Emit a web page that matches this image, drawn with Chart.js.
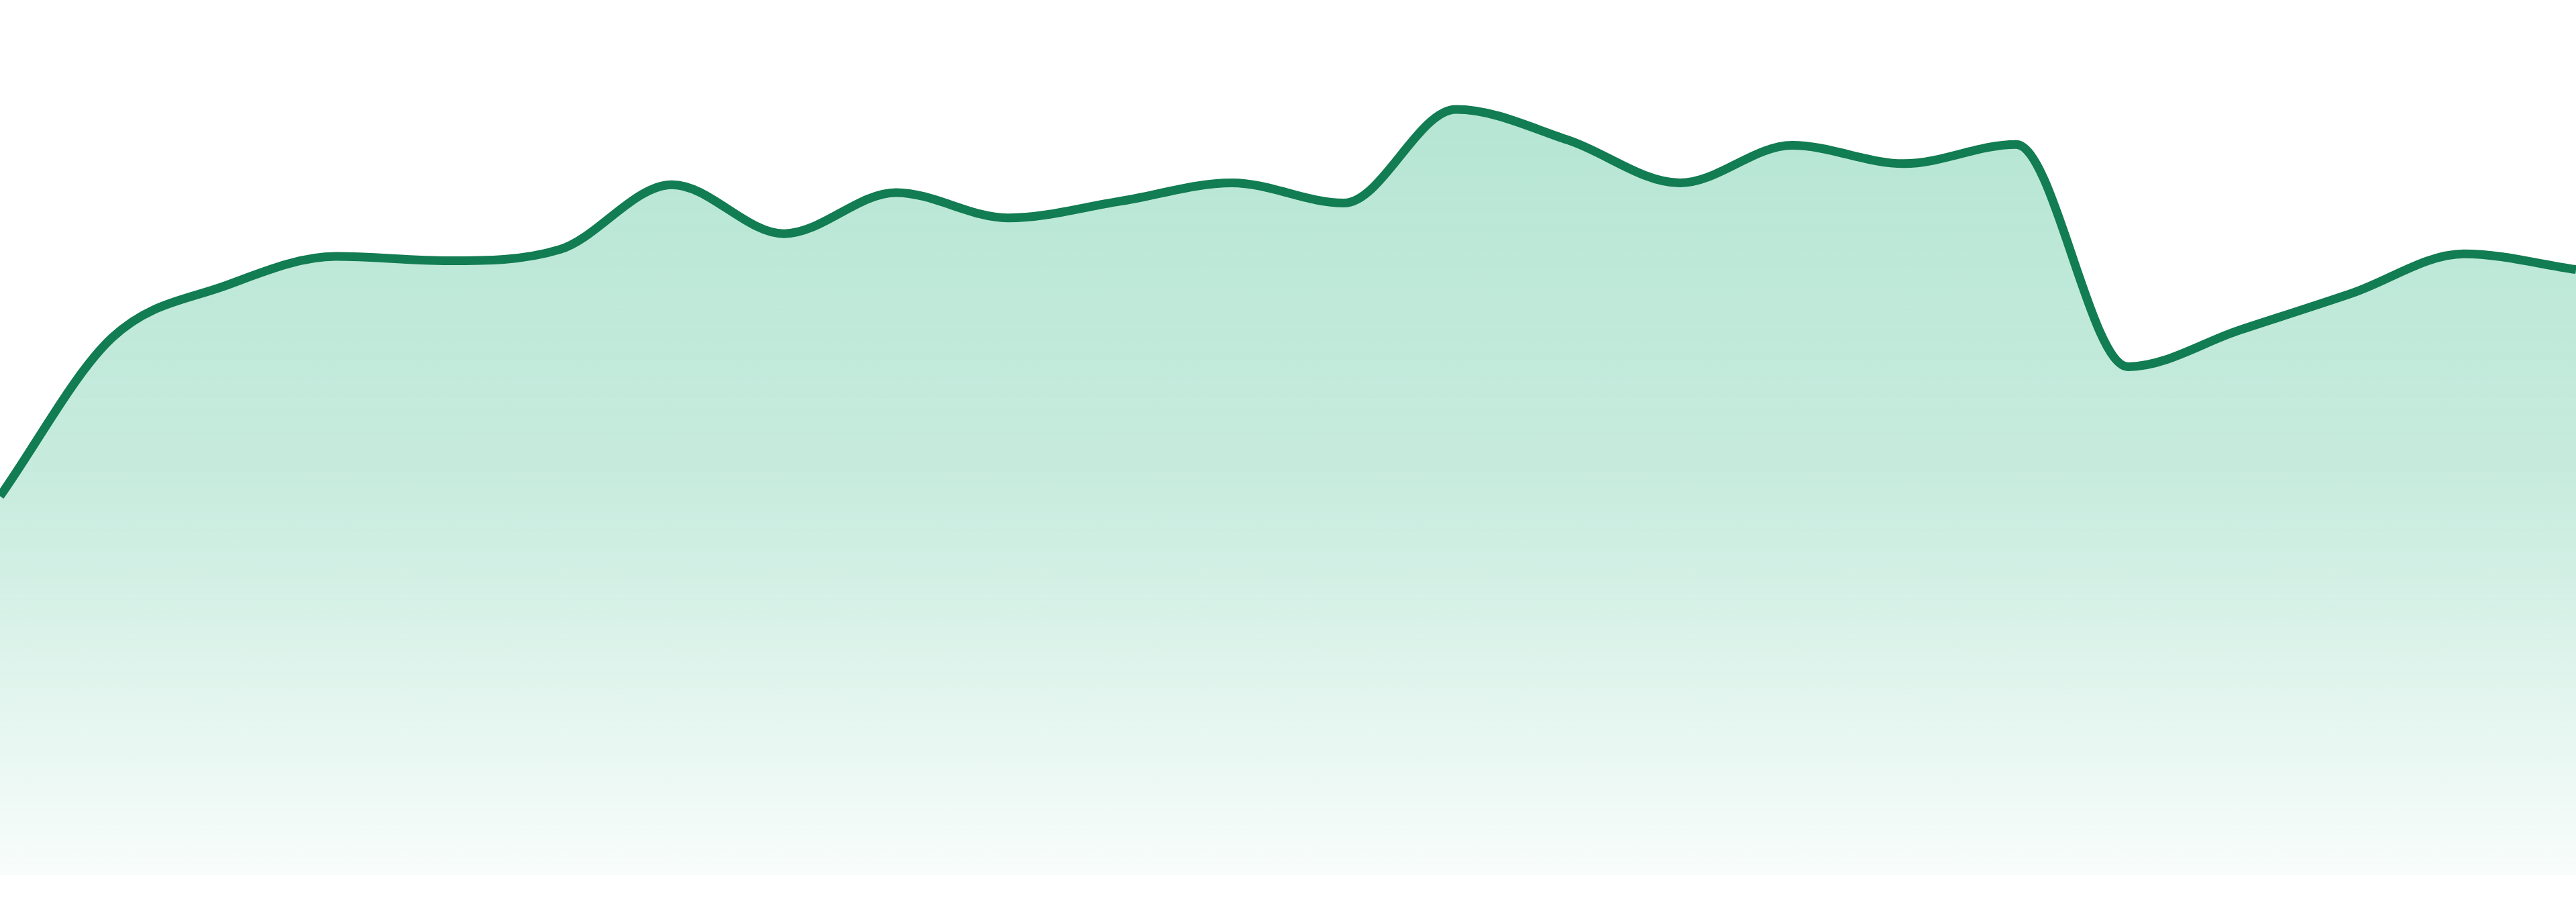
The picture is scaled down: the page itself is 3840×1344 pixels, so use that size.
<!DOCTYPE html>
<html>
<head>
<meta charset="utf-8">
<title>Area chart</title>
<script src="https://cdn.jsdelivr.net/npm/chart.js@4.4.1/dist/chart.umd.min.js"></script>
<style>
	html, body {
		margin: 0;
		padding: 0;
		background: #ffffff;
	}
	#chartWrap {
		width: 3840px;
		height: 1344px;
		position: relative;
	}
</style>
</head>
<body>
<div id="chartWrap">
	<canvas id="areaChart"></canvas>
</div>
<script>
// DATA
const categories = ['1', '2', '3', '4', '5', '6', '7', '8', '9', '10', '11', '12',
	'13', '14', '15', '16', '17', '18', '19', '20', '21', '22', '23', '24'];
const seriesValues = [43.3, 61.4, 67.3, 70.7, 70.2, 71.5, 78.9, 73.3, 78.0, 75.1, 77.0, 79.1,
	76.8, 87.5, 84.0, 79.1, 83.4, 81.3, 83.5, 58.1, 62.3, 66.5, 71.0, 69.2];
const yMin = 0;
const yMax = 100;

// COLOURS
const lineColor = 'rgb(18, 124, 82)';

// vertical fade under the line
function areaGradient(context) {
	const chart = context.chart;
	const area = chart.chartArea;
	if (!area) {
		return 'rgba(40, 180, 128, 0.3)';
	}
	const gradient = chart.ctx.createLinearGradient(0, area.top, 0, area.bottom);
	gradient.addColorStop(0, 'rgba(40, 180, 128, 0.36)');
	gradient.addColorStop(0.55, 'rgba(40, 180, 128, 0.26)');
	gradient.addColorStop(1, 'rgba(40, 180, 128, 0.03)');
	return gradient;
}

const data = {
	labels: categories,
	datasets: [{
		label: 'series',
		data: seriesValues,
		borderColor: lineColor,
		borderWidth: 13,
		backgroundColor: areaGradient,
		fill: 'origin',
		cubicInterpolationMode: 'monotone',
		pointRadius: 0,
		pointHoverRadius: 0
	}]
};

const config = {
	type: 'line',
	data: data,
	options: {
		responsive: true,
		maintainAspectRatio: false,
		animation: false,
		layout: {
			padding: {
				top: 0,
				left: 0,
				right: 0,
				bottom: 40
			}
		},
		plugins: {
			legend: { display: false },
			tooltip: { enabled: false }
		},
		scales: {
			x: {
				display: false
			},
			y: {
				display: false,
				min: yMin,
				max: yMax
			}
		}
	}
};

const areaChart = new Chart(
	document.getElementById('areaChart').getContext('2d'),
	config
);
</script>
</body>
</html>
